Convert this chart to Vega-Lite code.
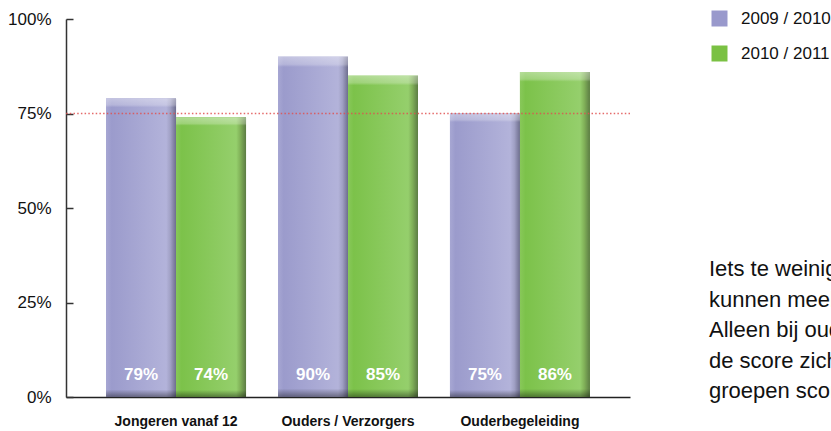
{
  "$schema": "https://vega.github.io/schema/vega-lite/v6.json",
  "width": 564,
  "height": 378,
  "autosize": {"type": "none"},
  "padding": {"left": 66, "top": 19, "right": 201, "bottom": 34},
  "background": "white",
  "config": {
    "view": {"stroke": null},
    "font": "Liberation Sans, Arial, sans-serif"
  },
  "title": {
    "text": ["Iets te weinig jongeren", "kunnen meebeslissen.", "Alleen bij ouderbegeleiding", "de score zichtbaar gestegen,", "groepen scoren gelijk."],
    "orient": "top",
    "anchor": "start",
    "frame": "group",
    "align": "left",
    "baseline": "top",
    "dx": 643,
    "dy": 393,
    "offset": 0,
    "fontSize": 22,
    "fontWeight": "normal",
    "lineHeight": 30.5,
    "color": "#111111"
  },
  "data": {
    "values": [
      {"group": "Jongeren vanaf 12", "year": "2009 / 2010", "score": 0.79},
      {"group": "Jongeren vanaf 12", "year": "2010 / 2011", "score": 0.74},
      {"group": "Ouders / Verzorgers", "year": "2009 / 2010", "score": 0.90},
      {"group": "Ouders / Verzorgers", "year": "2010 / 2011", "score": 0.85},
      {"group": "Ouderbegeleiding", "year": "2009 / 2010", "score": 0.75},
      {"group": "Ouderbegeleiding", "year": "2010 / 2011", "score": 0.86}
    ]
  },
  "layer": [
    {
      "mark": {"type": "bar"},
      "encoding": {
        "x": {
          "field": "group", "type": "nominal",
          "sort": ["Jongeren vanaf 12", "Ouders / Verzorgers", "Ouderbegeleiding"],
          "scale": {"paddingInner": 0.186, "paddingOuter": 0.233},
          "axis": {
            "title": null, "labelAngle": 0, "ticks": false, "tickSize": 0,
            "labelFontSize": 14, "labelFontWeight": "bold", "labelColor": "#111111",
            "labelPadding": 17, "domainColor": "#222222", "domainWidth": 1.5, "grid": false
          }
        },
        "xOffset": {"field": "year", "type": "nominal", "scale": {"paddingInner": 0, "paddingOuter": 0}},
        "y": {
          "field": "score", "type": "quantitative",
          "scale": {"domain": [0, 1]},
          "axis": {
            "title": null, "values": [0, 0.25, 0.5, 0.75, 1], "format": ".0%",
            "grid": false, "tickSize": -7, "tickColor": "#333333", "tickWidth": 1.5,
            "domainColor": "#333333", "domainWidth": 1.5,
            "labelFontSize": 17, "labelColor": "#111111", "labelPadding": 22
          }
        },
        "color": {
          "field": "year", "type": "nominal",
          "scale": {"domain": ["2009 / 2010", "2010 / 2011"], "range": ["#9999cc", "#7ac143"]},
          "legend": {
            "orient": "none", "legendX": 645, "legendY": -9, "title": null,
            "symbolType": "square", "symbolSize": 256, "symbolStrokeWidth": 0,
            "labelFontSize": 17, "labelColor": "#111111", "labelOffset": 13,
            "rowPadding": 17, "padding": 0
          }
        }
      }
    },
    {
      "transform": [{"filter": "datum.year === '2009 / 2010'"}],
      "mark": {
        "type": "bar",
        "color": {
          "gradient": "linear", "x1": 0, "x2": 1, "y1": 0, "y2": 0,
          "stops": [
            {"offset": 0, "color": "#a7a7d3"},
            {"offset": 0.08, "color": "#9b9bcc"},
            {"offset": 0.86, "color": "#b3b3da"},
            {"offset": 0.92, "color": "#a0a0c4"},
            {"offset": 1, "color": "#6e6e8e"}
          ]
        }
      },
      "encoding": {
        "x": {"field": "group", "type": "nominal", "sort": ["Jongeren vanaf 12", "Ouders / Verzorgers", "Ouderbegeleiding"]},
        "xOffset": {"field": "year", "type": "nominal"},
        "y": {"field": "score", "type": "quantitative"}
      }
    },
    {
      "transform": [{"filter": "datum.year === '2010 / 2011'"}],
      "mark": {
        "type": "bar",
        "color": {
          "gradient": "linear", "x1": 0, "x2": 1, "y1": 0, "y2": 0,
          "stops": [
            {"offset": 0, "color": "#88c85a"},
            {"offset": 0.08, "color": "#7cc24a"},
            {"offset": 0.86, "color": "#95cf6c"},
            {"offset": 0.92, "color": "#80b058"},
            {"offset": 1, "color": "#5c7c44"}
          ]
        }
      },
      "encoding": {
        "x": {"field": "group", "type": "nominal", "sort": ["Jongeren vanaf 12", "Ouders / Verzorgers", "Ouderbegeleiding"]},
        "xOffset": {"field": "year", "type": "nominal"},
        "y": {"field": "score", "type": "quantitative"}
      }
    },
    {
      "mark": {
        "type": "bar",
        "color": {
          "gradient": "linear", "x1": 0, "x2": 0, "y1": 0, "y2": 1,
          "stops": [
            {"offset": 0, "color": "rgba(255,255,255,0.4)"},
            {"offset": 0.022, "color": "rgba(255,255,255,0.25)"},
            {"offset": 0.03, "color": "rgba(255,255,255,0)"},
            {"offset": 0.975, "color": "rgba(0,0,0,0)"},
            {"offset": 1, "color": "rgba(0,0,0,0.4)"}
          ]
        }
      },
      "encoding": {
        "x": {"field": "group", "type": "nominal", "sort": ["Jongeren vanaf 12", "Ouders / Verzorgers", "Ouderbegeleiding"]},
        "xOffset": {"field": "year", "type": "nominal"},
        "y": {"field": "score", "type": "quantitative"}
      }
    },
    {
      "data": {"values": [{"ref": 0.75}]},
      "mark": {"type": "rule", "color": "#e05050", "strokeDash": [1.5, 2.2], "strokeWidth": 1.3, "opacity": 0.85},
      "encoding": {"y": {"field": "ref", "type": "quantitative"}}
    },
    {
      "mark": {"type": "text", "color": "white", "fontWeight": "bold", "fontSize": 17, "baseline": "middle", "dy": -22},
      "encoding": {
        "x": {"field": "group", "type": "nominal", "sort": ["Jongeren vanaf 12", "Ouders / Verzorgers", "Ouderbegeleiding"]},
        "xOffset": {"field": "year", "type": "nominal"},
        "y": {"datum": 0},
        "text": {"field": "score", "type": "quantitative", "format": ".0%"}
      }
    }
  ]
}
